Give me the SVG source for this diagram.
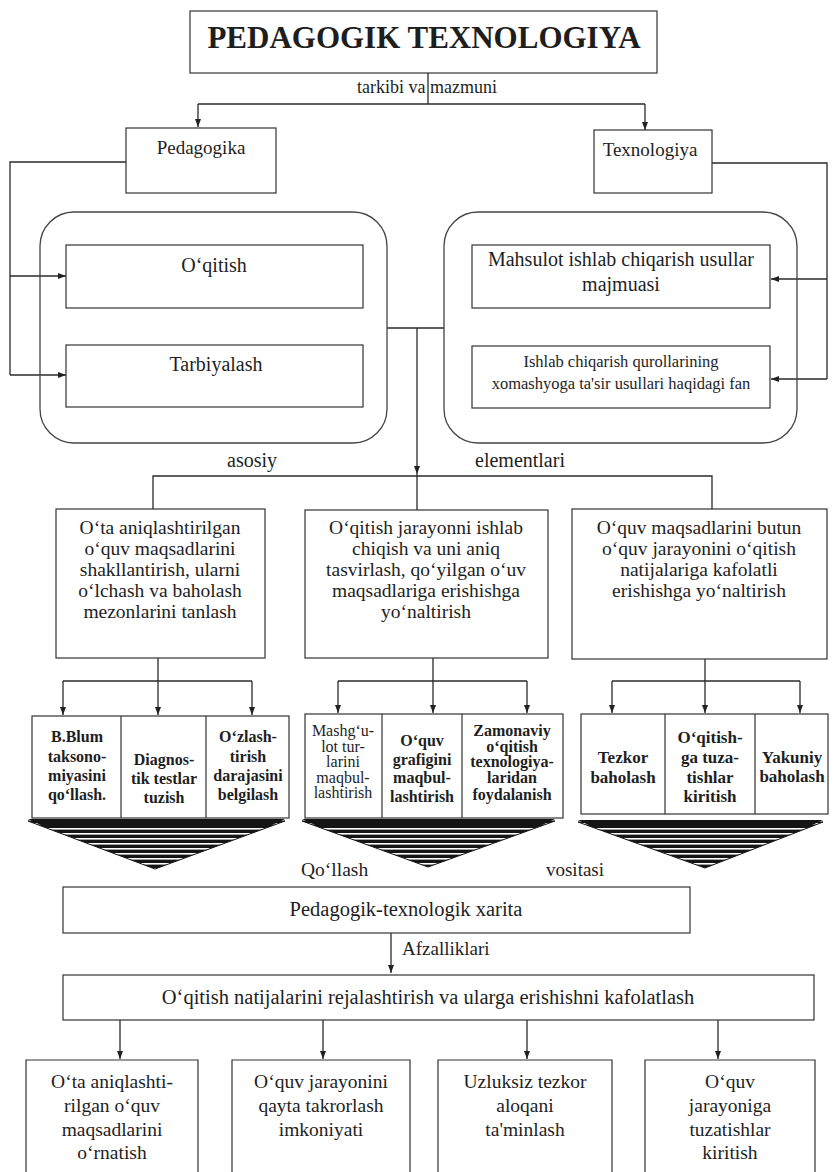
<svg xmlns="http://www.w3.org/2000/svg" width="835" height="1172" viewBox="0 0 835 1172">
<style>
.box{fill:none;stroke:#333;stroke-width:1.2}
.cont{fill:none;stroke:#444;stroke-width:1.3}
.ln{fill:none;stroke:#2a2a2a;stroke-width:1.3}
text{font-family:"Liberation Serif","Times New Roman",serif;fill:#1e1e1e;text-anchor:middle}
.b{font-weight:bold}
.s{text-anchor:start}
</style>
<defs>
<marker id="arr" markerWidth="8" markerHeight="8" refX="8" refY="4" orient="auto" markerUnits="userSpaceOnUse"><path d="M0,1 L8,4 L0,7 z" fill="#222"/></marker>
<pattern id="hatch" patternUnits="userSpaceOnUse" x="0" y="0" width="8" height="5"><rect width="8" height="5" fill="#151515"/><rect y="3" width="8" height="1.6" fill="#fff"/></pattern>
</defs>
<rect width="835" height="1172" fill="#fff"/>

<g id="connectors" class="ln">
<path d="M428,73 V104"/>
<path d="M198,104 H645"/>
<path d="M198,104 V127" marker-end="url(#arr)"/>
<path d="M645,104 V130" marker-end="url(#arr)"/>
<path d="M126,162 H10 V375"/>
<path d="M10,276 H66" marker-end="url(#arr)"/>
<path d="M10,375 H66" marker-end="url(#arr)"/>
<path d="M712,163 H827 V379"/>
<path d="M827,279 H771" marker-end="url(#arr)"/>
<path d="M827,379 H771" marker-end="url(#arr)"/>
<path d="M387,328 H444"/>
<path d="M417,328 V474" marker-end="url(#arr)"/>
<path d="M417,474 V510"/>
<path d="M153,509 V476 H712 V509"/>
<path d="M158,658 V681"/>
<path d="M63,681 H252"/>
<path d="M63,681 V715" marker-end="url(#arr)"/>
<path d="M158,681 V715" marker-end="url(#arr)"/>
<path d="M252,681 V715" marker-end="url(#arr)"/>
<path d="M433,658 V681"/>
<path d="M338,681 H527"/>
<path d="M338,681 V713" marker-end="url(#arr)"/>
<path d="M433,681 V713" marker-end="url(#arr)"/>
<path d="M527,681 V713" marker-end="url(#arr)"/>
<path d="M705,659 V681"/>
<path d="M612,681 H800"/>
<path d="M612,681 V713" marker-end="url(#arr)"/>
<path d="M705,681 V713" marker-end="url(#arr)"/>
<path d="M800,681 V713" marker-end="url(#arr)"/>
<path d="M391,933 V973" marker-end="url(#arr)"/>
<path d="M120,1020 V1059" marker-end="url(#arr)"/>
<path d="M323,1020 V1059" marker-end="url(#arr)"/>
<path d="M527,1020 V1059" marker-end="url(#arr)"/>
<path d="M718,1020 V1059" marker-end="url(#arr)"/>
</g>

<g id="labels">
<text x="427" y="93" font-size="18">tarkibi va mazmuni</text>
<text x="252" y="467" font-size="20">asosiy</text>
<text x="520" y="467" font-size="20">elementlari</text>
<text class="s" x="301" y="876" font-size="19.5">Qo‘llash</text>
<text x="575" y="876" font-size="19">vositasi</text>
<text class="s" x="402" y="955" font-size="19">Afzalliklari</text>
</g>

<g id="title">
<rect class="box" x="190" y="11" width="467" height="62"/>
<text class="b" x="424" y="48" font-size="31">PEDAGOGIK TEXNOLOGIYA</text>
</g>

<g id="pedagogika">
<rect class="box" x="126" y="128" width="150" height="65"/>
<text x="201" y="154" font-size="19">Pedagogika</text>
</g>
<g id="texnologiya">
<rect class="box" x="594" y="130" width="118" height="63"/>
<text x="650" y="156" font-size="19">Texnologiya</text>
</g>

<g id="container-left"><rect class="cont" x="40" y="212" width="347" height="231" rx="34"/></g>
<g id="container-right"><rect class="cont" x="444" y="212" width="353" height="231" rx="34"/></g>

<g id="oqitish">
<rect class="box" x="66" y="245" width="297" height="63"/>
<text x="214" y="272" font-size="20">O‘qitish</text>
</g>
<g id="tarbiyalash">
<rect class="box" x="66" y="345" width="297" height="62"/>
<text x="216" y="371" font-size="20">Tarbiyalash</text>
</g>
<g id="mahsulot">
<rect class="box" x="472" y="245" width="298" height="63"/>
<text x="621" y="266" font-size="20">Mahsulot ishlab chiqarish usullar</text>
<text x="621" y="291" font-size="20">majmuasi</text>
</g>
<g id="ishlab">
<rect class="box" x="472" y="346" width="298" height="62"/>
<text x="621" y="367" font-size="16.5">Ishlab chiqarish qurollarining</text>
<text x="621" y="389" font-size="16.5">xomashyoga ta'sir usullari haqidagi fan</text>
</g>

<g id="element1" font-size="19.5">
<rect class="box" x="56" y="509" width="209" height="149"/>
<text x="160" y="534">O‘ta aniqlashtirilgan</text>
<text x="160" y="555">o‘quv maqsadlarini</text>
<text x="160" y="576">shakllantirish, ularni</text>
<text x="160" y="597">o‘lchash va baholash</text>
<text x="160" y="618">mezonlarini tanlash</text>
</g>
<g id="element2" font-size="19.5">
<rect class="box" x="305" y="510" width="243" height="148"/>
<text x="426" y="534">O‘qitish jarayonni ishlab</text>
<text x="426" y="555">chiqish va uni aniq</text>
<text x="426" y="576">tasvirlash, qo‘yilgan o‘uv</text>
<text x="426" y="597">maqsadlariga erishishga</text>
<text x="426" y="618">yo‘naltirish</text>
</g>
<g id="element3" font-size="19.5">
<rect class="box" x="572" y="509" width="255" height="150"/>
<text x="699" y="534">O‘quv maqsadlarini butun</text>
<text x="699" y="555">o‘quv jarayonini o‘qitish</text>
<text x="699" y="576">natijalariga kafolatli</text>
<text x="699" y="597">erishishga yo‘naltirish</text>
</g>

<g id="group1" class="b" font-size="16">
<rect class="box" x="32" y="716" width="257" height="102"/>
<path class="box" d="M121,716 V818 M206,716 V818"/>
<text x="77" y="742">B.Blum</text>
<text x="77" y="762">taksono-</text>
<text x="77" y="781">miyasini</text>
<text x="77" y="800">qo‘llash.</text>
<text x="164" y="765">Diagnos-</text>
<text x="164" y="784">tik testlar</text>
<text x="164" y="803">tuzish</text>
<text x="248" y="742">O‘zlash-</text>
<text x="248" y="762">tirish</text>
<text x="248" y="781">darajasini</text>
<text x="248" y="800">belgilash</text>
</g>
<g id="group2">
<rect class="box" x="305" y="714" width="258" height="104"/>
<path class="box" d="M382,714 V818 M462,714 V818"/>
<g font-size="16">
<text x="343" y="736">Mashg‘u-</text>
<text x="343" y="751.5">lot tur-</text>
<text x="343" y="767">larini</text>
<text x="343" y="782.5">maqbul-</text>
<text x="343" y="798">lashtirish</text>
</g>
<g class="b" font-size="16">
<text x="422" y="746">O‘quv</text>
<text x="422" y="765">grafigini</text>
<text x="422" y="783">maqbul-</text>
<text x="422" y="802">lashtirish</text>
<text x="512" y="736">Zamonaviy</text>
<text x="512" y="752">o‘qitish</text>
<text x="512" y="767">texnologiya-</text>
<text x="512" y="783">laridan</text>
<text x="512" y="800">foydalanish</text>
</g>
</g>
<g id="group3" class="b" font-size="17">
<rect class="box" x="581" y="714" width="247" height="100"/>
<path class="box" d="M665,714 V814 M755,714 V814"/>
<text x="623" y="763">Tezkor</text>
<text x="623" y="783">baholash</text>
<text x="710" y="743">O‘qitish-</text>
<text x="710" y="763">ga tuza-</text>
<text x="710" y="783">tishlar</text>
<text x="710" y="802">kiritish</text>
<text x="792" y="763">Yakuniy</text>
<text x="792" y="782">baholash</text>
</g>

<g id="triangles">
<polygon points="28,821 285,821 155,869" fill="url(#hatch)" stroke="#151515" stroke-width="1"/>
<polygon points="28,819 285,819 270,826 43,826" fill="#151515"/>
<polygon points="302,821 555,821 428,867" fill="url(#hatch)" stroke="#151515" stroke-width="1"/>
<polygon points="302,819 555,819 540,826 317,826" fill="#151515"/>
<polygon points="578,822 823,822 705,868" fill="url(#hatch)" stroke="#151515" stroke-width="1"/>
<polygon points="578,820 823,820 808,827 593,827" fill="#151515"/>
</g>

<g id="xarita">
<rect class="box" x="63" y="887" width="627" height="46"/>
<text x="406" y="916" font-size="20.5">Pedagogik-texnologik xarita</text>
</g>
<g id="natijalar">
<rect class="box" x="63" y="975" width="751" height="45"/>
<text x="428" y="1004" font-size="20.5">O‘qitish natijalarini rejalashtirish va ularga erishishni kafolatlash</text>
</g>

<g id="adv1" font-size="19.5">
<path class="box" d="M26,1172 V1060 H198 V1172"/>
<text x="112" y="1088">O‘ta aniqlashti-</text>
<text x="112" y="1112">rilgan o‘quv</text>
<text x="112" y="1136">maqsadlarini</text>
<text x="112" y="1159">o‘rnatish</text>
</g>
<g id="adv2" font-size="19.5">
<path class="box" d="M232,1172 V1060 H410 V1172"/>
<text x="321" y="1088">O‘quv jarayonini</text>
<text x="321" y="1112">qayta takrorlash</text>
<text x="321" y="1136">imkoniyati</text>
</g>
<g id="adv3" font-size="19.5">
<path class="box" d="M438,1172 V1060 H612 V1172"/>
<text x="525" y="1088">Uzluksiz tezkor</text>
<text x="525" y="1112">aloqani</text>
<text x="525" y="1136">ta'minlash</text>
</g>
<g id="adv4" font-size="19.5">
<path class="box" d="M645,1172 V1060 H815 V1172"/>
<text x="730" y="1088">O‘quv</text>
<text x="730" y="1112">jarayoniga</text>
<text x="730" y="1136">tuzatishlar</text>
<text x="730" y="1159">kiritish</text>
</g>
</svg>
